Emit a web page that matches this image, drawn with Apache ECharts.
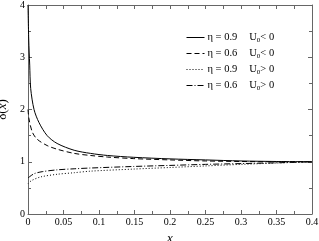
<!DOCTYPE html>
<html><head><meta charset="utf-8">
<script src="https://cdn.jsdelivr.net/npm/echarts@6/dist/echarts.min.js"></script>
<style>html,body{margin:0;padding:0;background:#fff}#c{width:319px;height:241px}</style>
</head><body><div id="c"></div>
<script>
const seriesNames = ['η = 0.9   U0< 0', 'η = 0.6   U0< 0', 'η = 0.9   U0> 0', 'η = 0.6   U0> 0'];
const legendEta = ['0.9', '0.6', '0.9', '0.6'];
const legendSign = ['<', '<', '>', '>'];
const xTicks = ['0', '0.05', '0.1', '0.15', '0.2', '0.25', '0.3', '0.35', '0.4'];
const yTicks = ['0', '1', '2', '3', '4'];

const xSolid = [0, 0.001, 0.0024, 0.0038, 0.0085, 0.0155, 0.027, 0.041, 0.065, 0.088, 0.112, 0.149, 0.2, 0.25, 0.3, 0.35, 0.4];
const ySolid = [4.0, 3.35, 2.85, 2.4, 2.0, 1.75, 1.5, 1.35, 1.22, 1.16, 1.12, 1.085, 1.055, 1.035, 1.015, 1.005, 1.0];

const xDashed = [0, 0.0014, 0.006, 0.013, 0.027, 0.041, 0.065, 0.088, 0.112, 0.149, 0.2, 0.25, 0.3, 0.35, 0.4];
const yDashed = [2.0, 1.82, 1.57, 1.43, 1.31, 1.24, 1.16, 1.12, 1.09, 1.06, 1.035, 1.015, 1.005, 1.0, 1.0];

const xDotted = [0, 0.005, 0.018, 0.041, 0.065, 0.088, 0.149, 0.2, 0.25, 0.3, 0.35, 0.4];
const yDotted = [0.58, 0.64, 0.71, 0.76, 0.79, 0.82, 0.86, 0.89, 0.92, 0.95, 0.975, 1.0];

const xDashDot = [0, 0.0085, 0.02, 0.041, 0.065, 0.088, 0.149, 0.2, 0.25, 0.3, 0.35, 0.4];
const yDashDot = [0.69, 0.77, 0.81, 0.845, 0.865, 0.88, 0.91, 0.93, 0.95, 0.965, 0.98, 1.0];

const zip = (xs, ys) => xs.map((x, i) => [x, ys[i]]);
const serif = '"Liberation Serif", "DejaVu Serif", serif';
const dashes = ['solid', [5, 3], [1, 2], [6, 2, 1, 2]];
const datas = [zip(xSolid, ySolid), zip(xDashed, yDashed), zip(xDotted, yDotted), zip(xDashDot, yDashDot)];

const axisCol = '#666';
const chart = echarts.init(document.getElementById('c'), null, {renderer: 'canvas'});
chart.setOption({
  animation: false,
  backgroundColor: '#fff',
  grid: {left: 28, right: 7, top: 5, bottom: 27, containLabel: false, outerBoundsMode: 'none'},
  legend: {
    orient: 'vertical', left: 181, top: 27, itemWidth: 18, itemHeight: 10, itemGap: 4,
    data: seriesNames,
    itemStyle: {color: 'rgba(0,0,0,0)', borderWidth: 0, opacity: 0},
    lineStyle: {width: 1},
    formatter: function (name) {
      const i = seriesNames.indexOf(name);
      return '{a|η = ' + legendEta[i] + '}{u|U}{s|0}{a|' + legendSign[i] + ' 0}';
    },
    textStyle: {
      fontFamily: serif, fontSize: 10, color: '#000', padding: [0, 0, 0, -2],
      rich: {
        a: {fontFamily: serif, fontSize: 10.5, color: '#000'},
        u: {fontFamily: serif, fontSize: 10.5, color: '#000', padding: [0, 0, 0, 12]},
        s: {fontFamily: serif, fontSize: 7, color: '#000', padding: [6, 0, 0, 0]}
      }
    }
  },
  xAxis: [{
    type: 'value', min: 0, max: 0.4, interval: 0.05,
    name: 'x', nameLocation: 'middle', nameGap: 16,
    nameTextStyle: {fontFamily: serif, fontSize: 13, fontStyle: 'italic', color: '#000'},
    axisLine: {show: true, onZero: false, lineStyle: {color: axisCol, width: 1}},
    axisTick: {show: true, inside: true, length: 4, lineStyle: {color: axisCol}},
    minorTick: {show: true, splitNumber: 2, length: 3, lineStyle: {color: axisCol}},
    splitLine: {show: false},
    axisLabel: {fontFamily: serif, fontSize: 10, color: '#000', margin: 3,
      formatter: function (v) { const i = Math.round(v / 0.05); return xTicks[i] !== undefined ? xTicks[i] : ''; }}
  }, {
    type: 'value', min: 0, max: 0.4, interval: 0.05, position: 'top',
    axisLine: {show: true, onZero: false, lineStyle: {color: axisCol, width: 1}},
    axisTick: {show: true, inside: true, length: 4, lineStyle: {color: axisCol}},
    minorTick: {show: true, splitNumber: 2, length: 4, lineStyle: {color: axisCol}},
    splitLine: {show: false}, axisLabel: {show: false}
  }],
  yAxis: [{
    type: 'value', min: 0, max: 4, interval: 1,
    name: '{a|δ(}{b|x}{a|)}', nameLocation: 'middle', nameGap: 13, nameRotate: 90,
    nameTextStyle: {rich: {
      a: {fontFamily: serif, fontSize: 13, color: '#000'},
      b: {fontFamily: serif, fontSize: 13, fontStyle: 'italic', color: '#000'}
    }},
    axisLine: {show: true, onZero: false, lineStyle: {color: axisCol, width: 1}},
    axisTick: {show: true, inside: true, length: 4, lineStyle: {color: axisCol}},
    minorTick: {show: true, splitNumber: 2, length: 3, lineStyle: {color: axisCol}},
    splitLine: {show: false},
    axisLabel: {fontFamily: serif, fontSize: 10, color: '#000', margin: 3,
      formatter: function (v) { return yTicks[Math.round(v)] !== undefined ? yTicks[Math.round(v)] : ''; }}
  }, {
    type: 'value', min: 0, max: 4, interval: 1, position: 'right',
    axisLine: {show: true, onZero: false, lineStyle: {color: axisCol, width: 1}},
    axisTick: {show: true, inside: true, length: 4, lineStyle: {color: axisCol}},
    minorTick: {show: true, splitNumber: 2, length: 3, lineStyle: {color: axisCol}},
    splitLine: {show: false}, axisLabel: {show: false}
  }],
  series: seriesNames.map((n, i) => ({
    name: n, type: 'line', data: datas[i], symbol: 'none', smooth: 0.3,
    xAxisIndex: 0, yAxisIndex: 0, clip: true,
    lineStyle: {color: '#000', width: 1, type: dashes[i]},
    itemStyle: {color: '#000'}
  }))
});
</script></body></html>
